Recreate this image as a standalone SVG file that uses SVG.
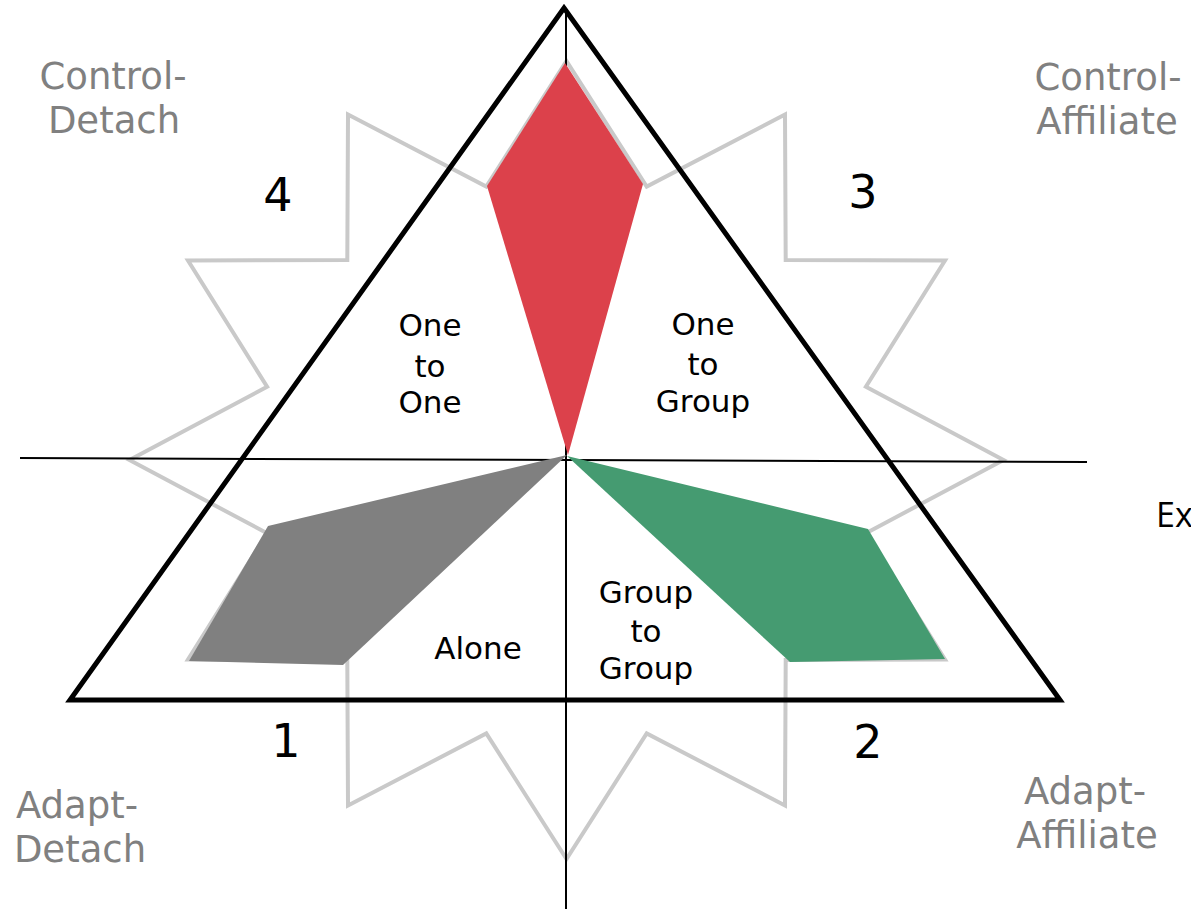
<svg xmlns="http://www.w3.org/2000/svg" width="1191" height="909" viewBox="0 0 1191 909">
  <style>
    .star { fill: none; stroke: #c9c9c9; stroke-width: 4; stroke-linejoin: miter; }
    .tri { fill: none; stroke: #000; stroke-width: 5; stroke-linejoin: miter; }
    .axis { stroke: #000; stroke-width: 2; fill: none; }
    .corner { font-family: "DejaVu Sans", "Liberation Sans", sans-serif; font-size: 37px; fill: #808080; text-anchor: middle; }
    .lbl { font-family: "DejaVu Sans", "Liberation Sans", sans-serif; font-size: 31px; fill: #000; text-anchor: middle; }
    .num { font-family: "DejaVu Sans", "Liberation Sans", sans-serif; font-size: 46px; fill: #000; text-anchor: middle; }
    .ex { font-family: "Open Sans", "Liberation Sans", sans-serif; font-size: 34px; fill: #000; }
  </style>
  <rect width="1191" height="909" fill="#fff"/>

  <g id="star">
    <polygon class="star" points="566.5,61 646.7,186.6 785,114.5 785.7,259.9 945,260.5 865.9,386.8 1003.5,460 865.9,533.2 945,659.5 785.7,660.1 785,805.5 646.7,733.4 566.5,859 486.3,733.4 348,805.5 347.3,660.1 188,659.5 267.1,533.2 129.5,460 267.1,386.8 188,260.5 347.3,259.9 348,114.5 486.3,186.6"/>
  </g>

  <g id="triangle">
    <polygon class="tri" points="564,8 1060,700 70,700"/>
  </g>

  <g id="connectors">
    <line class="axis" x1="566" y1="8" x2="566" y2="909"/>
    <line class="axis" x1="20" y1="458" x2="1087" y2="462"/>
  </g>

  <g id="kite-red">
    <polygon fill="#dc414b" points="565,63 643,184 568,455 487,186"/>
  </g>
  <g id="kite-gray">
    <polygon fill="#808080" points="567,455 268,526 189,661 343,665"/>
  </g>
  <g id="kite-green">
    <polygon fill="#459b71" points="567,456 868,529 945,659 790,662"/>
  </g>

  <g id="label-control-detach">
    <text class="corner" x="113" y="89">Control-</text>
    <text class="corner" x="114" y="133">Detach</text>
  </g>
  <g id="label-control-affiliate">
    <text class="corner" x="1108" y="90">Control-</text>
    <text class="corner" x="1107" y="134">Affiliate</text>
  </g>
  <g id="label-adapt-detach">
    <text class="corner" x="77" y="818">Adapt-</text>
    <text class="corner" x="80" y="862">Detach</text>
  </g>
  <g id="label-adapt-affiliate">
    <text class="corner" x="1085" y="804">Adapt-</text>
    <text class="corner" x="1087" y="848">Affiliate</text>
  </g>

  <g id="label-one-to-one">
    <text class="lbl" x="430" y="336">One</text>
    <text class="lbl" x="430" y="377">to</text>
    <text class="lbl" x="430" y="413">One</text>
  </g>
  <g id="label-one-to-group">
    <text class="lbl" x="703" y="335">One</text>
    <text class="lbl" x="703" y="375">to</text>
    <text class="lbl" x="703" y="412">Group</text>
  </g>
  <g id="label-group-to-group">
    <text class="lbl" x="646" y="603">Group</text>
    <text class="lbl" x="646" y="642">to</text>
    <text class="lbl" x="646" y="679">Group</text>
  </g>
  <g id="label-alone">
    <text class="lbl" x="478" y="659">Alone</text>
  </g>

  <g id="numbers">
    <text class="num" x="278" y="211">4</text>
    <text class="num" x="863" y="208">3</text>
    <text class="num" x="286" y="757">1</text>
    <text class="num" x="868" y="758">2</text>
  </g>

  <g id="label-ex">
    <text class="ex" x="1156" y="527">Ex</text>
  </g>
</svg>
